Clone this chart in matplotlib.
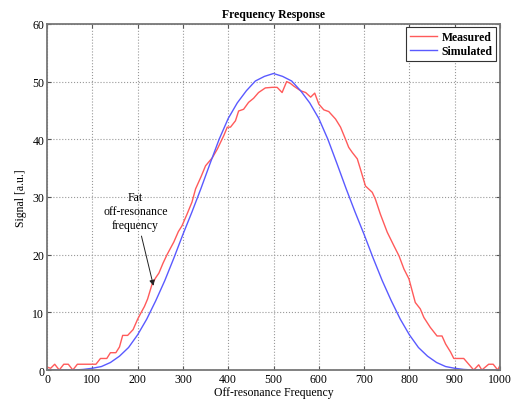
import matplotlib
matplotlib.use("Agg")
import matplotlib.pyplot as plt

plt.rcParams['font.family'] = ['Liberation Serif', 'DejaVu Serif']

# simulated response, every 20 units from 0 to 1000
sim_x = list(range(0, 1001, 20))
sim_half = [0, 0, 0, 0, 0.1, 0.3, 0.6, 1.3, 2.4, 3.9, 6.1, 8.8, 12.0, 15.5,
            19.4, 23.5, 27.4, 31.5, 35.8, 40.0, 43.6, 46.3, 48.4, 50.1, 50.9]
sim_y = sim_half + [51.4] + sim_half[::-1]

meas_x = [0, 8, 17, 27, 37, 47, 57, 67, 80, 95, 108, 118, 132, 140, 152, 160,
          167, 178, 190, 200, 208, 215, 222, 232, 240, 247, 256, 265, 280, 290,
          298, 309, 320, 328, 340, 350, 365, 376, 390, 398, 405, 416, 423, 434,
          445, 456, 467, 482, 497, 508, 519, 529, 537, 545, 560, 571, 582, 591,
          600, 611, 622, 637, 648, 659, 666, 674, 685, 692, 703, 718, 725, 736,
          751, 766, 777, 788, 799, 813, 824, 832, 846, 861, 872, 880, 891, 898,
          920, 931, 942, 953, 960, 975, 985, 995, 1000]
meas_y = [0.5, 0.3, 1.0, 0.0, 1.0, 1.0, 0.0, 1.0, 1.0, 1.0, 1.0, 2.0, 2.0, 3.0,
          3.0, 4.0, 6.0, 6.0, 7.0, 8.8, 10.0, 11.0, 12.3, 14.9, 16.0, 16.8,
          18.5, 20.0, 22.2, 24.0, 25.0, 27.0, 29.1, 31.4, 33.5, 35.4, 36.8,
          38.3, 40.6, 42.1, 42.1, 43.2, 44.9, 45.2, 46.4, 47.1, 48.1, 48.9,
          49.0, 49.0, 48.1, 50.0, 49.7, 49.2, 48.4, 48.1, 47.3, 48.0, 46.1,
          45.1, 44.8, 43.5, 42.1, 40.0, 38.6, 37.7, 36.6, 34.8, 31.9, 30.8,
          29.6, 27.0, 23.9, 21.5, 19.8, 17.5, 15.8, 11.7, 10.6, 9.1, 7.4, 5.9,
          5.9, 4.5, 3.1, 2.0, 2.0, 1.0, 0.0, 0.9, 0.0, 1.0, 1.0, 0.0, 0.8]

x_ticks = list(range(0, 1001, 100))
y_ticks = list(range(0, 61, 10))

fig = plt.figure(figsize=(5.23, 4.02), dpi=100)
ax = fig.add_axes([0.0899, 0.0771, 0.8661, 0.861])

ax.plot(meas_x, meas_y, color='#ff5a5a', lw=1.0, label='Measured')
ax.plot(sim_x, sim_y, color='#5a5aff', lw=1.0, label='Simulated')

ax.set_xlim(0, 1000)
ax.set_ylim(0, 60)
ax.set_xticks(x_ticks)
ax.set_yticks(y_ticks)
ax.tick_params(direction='in', top=True, right=True, labelsize=8.5,
               length=3, color='#555555', pad=2)
ax.grid(True, linestyle=':', color='#999999', lw=0.8)
for s in ax.spines.values():
    s.set_color('#777777')
    s.set_linewidth(1.3)

ax.set_title('Frequency Response', fontsize=8.5, fontweight='bold', pad=5)
ax.set_xlabel('Off-resonance Frequency', fontsize=8.5, labelpad=1)
ax.set_ylabel('Signal [a.u.]', fontsize=8.5, labelpad=4)

ax.annotate('Fat\noff-resonance\nfrequency', xy=(235, 14.6), xytext=(195, 27.6),
            ha='center', va='center', fontsize=8.5, linespacing=1.2,
            arrowprops=dict(arrowstyle='-|>', color='#222222', lw=0.7,
                            mutation_scale=8, shrinkA=2, shrinkB=0))

leg = ax.legend(loc='upper right', prop={'weight': 'bold', 'size': 8.5},
                fancybox=False, framealpha=1, edgecolor='#333333',
                borderaxespad=0.3, handlelength=2.3, borderpad=0.3,
                labelspacing=0.2, handletextpad=0.4)
leg.get_frame().set_linewidth(0.8)

fig.savefig('out.png', dpi=100)
